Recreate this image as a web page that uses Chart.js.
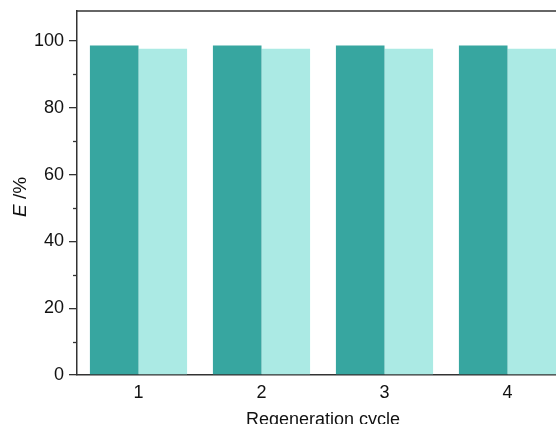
<!DOCTYPE html>
<html>
<head>
<meta charset="utf-8">
<script src="https://cdn.jsdelivr.net/npm/chart.js@4"></script>
<style>
    html, body { margin: 0; padding: 0; overflow: hidden; background: #fff; }
    #wrap { position: absolute; left: 0; top: 0; }
</style>
</head>
<body>
<div id="wrap"><canvas id="chart" width="600" height="432"></canvas></div>
<script>
const cycles = ['1', '2', '3', '4'];
const seriesA = [98.7, 98.7, 98.7, 98.7];
const seriesB = [97.7, 97.7, 97.7, 97.7];
const minorTicks = [10, 30, 50, 70, 90];

const FONT_FAMILY = '"Liberation Sans", Arial, sans-serif';
const AXIS_COLOR = '#333';

// top frame line, minor ticks and the mixed-style y title
const extras = {
    id: 'extras',
    afterDraw(chart) {
        const {ctx, chartArea, scales} = chart;
        ctx.save();
        ctx.strokeStyle = AXIS_COLOR;
        ctx.lineWidth = 1.5;
        ctx.beginPath();
        ctx.moveTo(chartArea.left, chartArea.top);
        ctx.lineTo(chartArea.right + 40, chartArea.top);
        ctx.stroke();

        ctx.lineWidth = 1.3;
        minorTicks.forEach((v) => {
            const y = Math.round(scales.y.getPixelForValue(v)) + 0.5;
            ctx.beginPath();
            ctx.moveTo(chartArea.left - 4, y);
            ctx.lineTo(chartArea.left, y);
            ctx.stroke();
        });

        // y title: italic "E" followed by " /%"
        const cx = 21;
        const cy = (chartArea.top + chartArea.bottom) / 2 + 4;
        ctx.translate(cx, cy);
        ctx.rotate(-Math.PI / 2);
        ctx.fillStyle = '#111';
        ctx.textBaseline = 'middle';
        const fItalic = 'italic 19px ' + FONT_FAMILY;
        const fNormal = '19px ' + FONT_FAMILY;
        ctx.font = fItalic;
        const w1 = ctx.measureText('E').width;
        ctx.font = fNormal;
        const w2 = ctx.measureText(' /%').width;
        const x0 = -(w1 + w2) / 2;
        ctx.font = fItalic;
        ctx.textAlign = 'left';
        ctx.fillText('E', x0, 0);
        ctx.font = fNormal;
        ctx.fillText(' /%', x0 + w1, 0);
        ctx.restore();
    }
};

const config = {
    type: 'bar',
    data: {
        labels: cycles,
        datasets: [
            {
                label: 'A',
                data: seriesA,
                backgroundColor: '#37A6A0',
                borderWidth: 0,
                categoryPercentage: 0.79,
                barPercentage: 1.0,
            },
            {
                label: 'B',
                data: seriesB,
                backgroundColor: '#ABEAE4',
                borderWidth: 0,
                categoryPercentage: 0.79,
                barPercentage: 1.0,
            },
        ],
    },
    options: {
        responsive: false,
        animation: false,
        layout: {
            padding: { top: 11, left: 0, right: 31, bottom: 0 },
        },
        plugins: {
            legend: { display: false },
            tooltip: { enabled: false },
            title: { display: false },
        },
        scales: {
            x: {
                grid: { display: false, drawTicks: false },
                border: { display: true, color: AXIS_COLOR, width: 1.5 },
                ticks: {
                    color: '#111',
                    padding: 7,
                    font: { family: FONT_FAMILY, size: 18 },
                },
                title: {
                    display: true,
                    text: 'Regeneration cycle',
                    color: '#111',
                    padding: { top: 0, bottom: 1 },
                    font: { family: FONT_FAMILY, size: 18 },
                },
                afterFit: (s) => { s.height = 57; s.paddingLeft = 0; s.paddingRight = 0; },
            },
            y: {
                min: 0,
                max: 109,
                grid: {
                    display: true,
                    drawOnChartArea: false,
                    drawTicks: true,
                    tickLength: 8,
                    color: AXIS_COLOR,
                    lineWidth: 1.3,
                },
                border: { display: true, color: AXIS_COLOR, width: 1.5 },
                ticks: {
                    stepSize: 20,
                    includeBounds: false,
                    color: '#111',
                    padding: 5,
                    font: { family: FONT_FAMILY, size: 18 },
                },
                afterFit: (s) => { s.width = 77; s.paddingTop = 0; s.paddingBottom = 0; },
            },
        },
    },
    plugins: [extras],
};

new Chart(document.getElementById('chart'), config);
</script>
</body>
</html>
